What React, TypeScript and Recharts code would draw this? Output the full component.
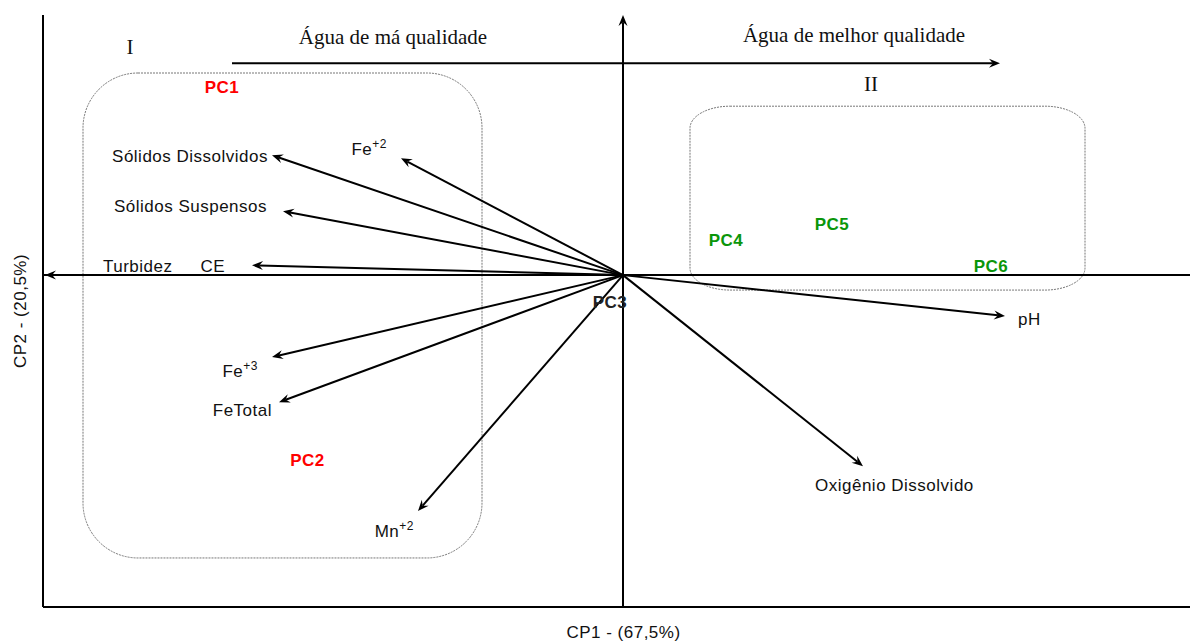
import React from 'react';
import { ScatterChart, Scatter, XAxis, YAxis, ReferenceLine, ReferenceArea } from 'recharts';

// variable loadings (arrow tips) on CP1 / CP2
const varNames = ['Sólidos Dissolvidos', 'Fe', 'Sólidos Suspensos', 'CE', 'Turbidez', 'Fe', 'FeTotal', 'Mn', 'pH', 'Oxigênio Dissolvido'];
const varSup = ['', '+2', '', '', '', '+3', '', '+2', '', ''];
const loadCP1 = [-0.702, -0.444, -0.68, -0.742, -1.156, -0.702, -0.688, -0.41, 0.764, 0.48];
const loadCP2 = [0.401, 0.391, 0.214, 0.033, 0, -0.274, -0.425, -0.789, -0.137, -0.639];

// sampling points scores
const pcNames = ['PC1', 'PC2', 'PC3', 'PC4', 'PC5', 'PC6'];
const scoreCP1 = [-0.802, -0.631, -0.026, 0.206, 0.418, 0.736];
const scoreCP2 = [0.629, -0.619, -0.09, 0.117, 0.171, 0.03];
const pcGroup = ['I', 'I', '', 'II', 'II', 'II'];

// groups (rounded boxes)
const groupNames = ['I', 'II'];
const groupX1 = [-1.08, 0.134];
const groupX2 = [-0.282, 0.924];
const groupY1 = [-0.946, -0.05];
const groupY2 = [0.676, 0.565];

// quality arrow + annotations
const qualityArrowX = [-0.782, 0.754];
const qualityArrowY = 0.709;
const noteText = ['Água de má qualidade', 'Água de melhor qualidade', 'I', 'II'];
const noteX = [-0.46, 0.462, -0.986, 0.496];
const noteY = [0.773, 0.779, 0.739, 0.615];

// label placement relative to arrow tip (px)
const labelLayout: [number, number, 'start' | 'middle' | 'end'][] = [
  [-4, 7, 'end'],
  [-14, -3, 'end'],
  [-16, 1, 'end'],
  [-27, 7, 'end'],
  [58, -3, 'start'],
  [-14, 20, 'end'],
  [-7, 14, 'end'],
  [-4, 26, 'end'],
  [13, 9, 'start'],
  [-48, 25, 'start'],
];

const groupColor: Record<string, string> = { I: '#ff0000', II: '#0a960a', '': '#222' };
const SANS = '"Liberation Sans", Arial, sans-serif';
const SERIF = '"Liberation Serif", "Times New Roman", serif';

const pcData = pcNames.map((name, i) => ({ name, x: scoreCP1[i], y: scoreCP2[i], group: pcGroup[i] }));
const noteData = noteText.map((text, i) => ({ text, x: noteX[i], y: noteY[i] }));

function arrowHead(x1: number, y1: number, x2: number, y2: number, len = 11, half = 4.5) {
  const d = Math.hypot(x2 - x1, y2 - y1) || 1;
  const ux = (x2 - x1) / d;
  const uy = (y2 - y1) / d;
  const bx = x2 - ux * len;
  const by = y2 - uy * len;
  const nx = x2 - ux * len * 0.65;
  const ny = y2 - uy * len * 0.65;
  const pts = [
    [x2, y2],
    [bx - uy * half, by + ux * half],
    [nx, ny],
    [bx + uy * half, by - ux * half],
  ];
  return { points: pts.map(p => p.join(',')).join(' '), nx, ny };
}

const ArrowShape = (props: any) => {
  const { x1, y1, x2, y2, label, sup, layout, head = true } = props;
  if (x1 == null) return null;
  const h = arrowHead(x1, y1, x2, y2);
  return (
    <g>
      <line x1={x1} y1={y1} x2={head ? h.nx : x2} y2={head ? h.ny : y2} stroke="#000" strokeWidth={2} />
      {head && <polygon points={h.points} fill="#000" />}
      {label && (
        <text
          x={x2 + layout[0]}
          y={y2 + layout[1]}
          textAnchor={layout[2]}
          fontFamily={SANS}
          fontSize={17}
          letterSpacing={0.5}
          fill="#111"
        >
          {label}
          {sup && <tspan dy={-7} fontSize={12}>{sup}</tspan>}
        </text>
      )}
    </g>
  );
};

const PcLabel = (props: any) => {
  const { cx, cy, payload } = props;
  return (
    <text x={cx} y={cy + 6} textAnchor="middle" fontFamily={SANS} fontSize={17} fontWeight="bold" letterSpacing={0.5} fill={groupColor[payload.group]}>
      {payload.name}
    </text>
  );
};

const NoteLabel = (props: any) => {
  const { cx, cy, payload } = props;
  return (
    <text x={cx} y={cy} textAnchor="middle" fontFamily={SERIF} fontSize={21} fill="#111">
      {payload.text}
    </text>
  );
};

const RoundBox = (props: any) => {
  const { x, y, width, height, index } = props;
  const r = index === 0 ? [55, 55] : [40, 22];
  return <rect x={x} y={y} width={width} height={height} rx={r[0]} ry={r[1]} fill="none" stroke="#777" strokeWidth={1} strokeDasharray="2 1" />;
};

export default function App() {
  return (
    <div style={{ position: 'absolute', left: 0, top: 0, width: 1190, height: 641, background: '#fff' }}>
      <ScatterChart width={1190} height={641} margin={{ top: 15, right: 0, bottom: 0, left: 0 }}>
        <XAxis
          type="number"
          dataKey="x"
          domain={[-1.16, 1.134]}
          allowDataOverflow
          tick={false}
          tickLine={false}
          height={34}
          axisLine={{ stroke: '#000', strokeWidth: 2 }}
          label={(p: any) => {
            const vb = p?.viewBox ?? { x: 43, y: 607, width: 1147, height: 34 };
            return (
              <text x={vb.x + vb.width / 2 + 7} y={vb.y + 31} textAnchor="middle" fontFamily={SANS} fontSize={17} letterSpacing={0.5} fill="#111">
                CP1 - (67,5%)
              </text>
            );
          }}
        />
        <YAxis
          type="number"
          dataKey="y"
          domain={[-1.11, 0.87]}
          allowDataOverflow
          tick={false}
          tickLine={false}
          width={43}
          axisLine={{ stroke: '#000', strokeWidth: 2 }}
          label={(p: any) => {
            const vb = p?.viewBox ?? { x: 0, y: 15, width: 43, height: 592 };
            const cx = vb.x + 20;
            const cy = vb.y + vb.height / 2;
            return (
              <text x={cx} y={cy} transform={`rotate(-90 ${cx} ${cy})`} textAnchor="middle" dominantBaseline="central" fontFamily={SANS} fontSize={17} letterSpacing={0.5} fill="#111">
                CP2 - (20,5%)
              </text>
            );
          }}
        />

        {groupNames.map((g, i) => (
          <ReferenceArea
            key={g}
            x1={groupX1[i]}
            x2={groupX2[i]}
            y1={groupY1[i]}
            y2={groupY2[i]}
            ifOverflow="visible"
            shape={(p: any) => <RoundBox {...p} index={i} />}
          />
        ))}

        {/* central axes */}
        <ReferenceLine y={0} stroke="#000" strokeWidth={2} ifOverflow="visible" />
        <ReferenceLine
          segment={[{ x: 0, y: -1.11 }, { x: 0, y: 0.87 }]}
          ifOverflow="visible"
          shape={(p: any) => <ArrowShape {...p} />}
        />

        {/* quality arrow */}
        <ReferenceLine
          segment={[{ x: qualityArrowX[0], y: qualityArrowY }, { x: qualityArrowX[1], y: qualityArrowY }]}
          ifOverflow="visible"
          shape={(p: any) => <ArrowShape {...p} />}
        />

        {/* loading vectors */}
        {varNames.map((name, i) => (
          <ReferenceLine
            key={i}
            segment={[{ x: 0, y: 0 }, { x: loadCP1[i], y: loadCP2[i] }]}
            ifOverflow="visible"
            shape={(p: any) => <ArrowShape {...p} label={name} sup={varSup[i]} layout={labelLayout[i]} />}
          />
        ))}

        <Scatter data={noteData} shape={NoteLabel} isAnimationActive={false} />
        <Scatter data={pcData} shape={PcLabel} isAnimationActive={false} />
      </ScatterChart>
    </div>
  );
}
